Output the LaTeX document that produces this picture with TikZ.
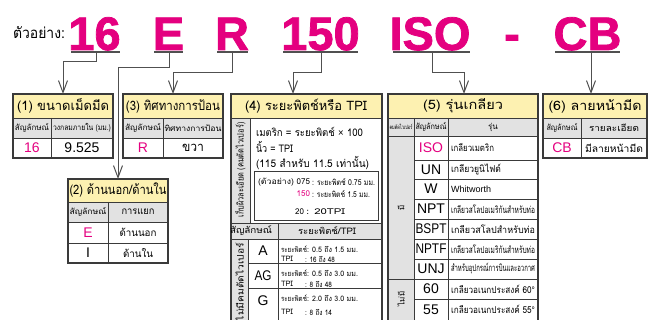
\documentclass[tikz,border=0pt]{standalone}
\usepackage{fontspec}
\usepackage{graphicx}
\setmainfont{Loma}[Script=Thai]
\newfontfamily\lat{Liberation Sans}
\newfontfamily\latbig{Liberation Sans Bold}[FakeBold=1.6]
\usetikzlibrary{arrows.meta}
\definecolor{mag}{HTML}{E4007F}
\definecolor{hdr}{HTML}{FDF1B1}
\definecolor{sub}{HTML}{E2E2E2}
\definecolor{bord}{HTML}{3A3A3A}
\definecolor{conn}{HTML}{505050}
\newcommand{\fs}[1]{\fontsize{#1}{#1}\selectfont}
\newcommand{\fx}[2]{\resizebox{#1pt}{\height}{#2}}
\begin{document}
\begin{tikzpicture}[x=1pt,y=-1pt,
  t/.style={inner sep=0pt, outer sep=0pt},
  big/.style={t, anchor=base, text=mag, font=\latbig\fs{47}},
  uline/.style={draw=conn, line width=1.2pt},
  conn/.style={draw=conn, line width=1pt, -{Straight Barb[length=12pt,width=9pt,line width=1pt]}},
  frame/.style={draw=bord, line width=1.3pt, inner sep=0pt, outer sep=0pt, anchor=north west},
  grid/.style={draw=bord, line width=0.9pt},
  hd/.style={t, font=\fs{13}},
  sh/.style={t, font=\fs{8}},
  dt/.style={t, font=\lat\fs{14}},
  sm/.style={t, font=\fs{7.5}, anchor=west},
]
\useasboundingbox (0,0) rectangle (651,320);
\clip (0,0) rectangle (651,320);

% ---------- title line ----------
\node[t, anchor=base west, font=\fs{15}] (lbl) at (13,39) {\fx{52}{ตัวอย่าง:}};
\node[big] (n16) at (94.5,50) {16};
\node[big] (nE) at (168.5,50) {E};
\node[big] (nR) at (232,50) {R};
\node[big] (n150) at (320.5,50) {150};
\node[big] (nISO) at (430,50) {ISO};
\node[big] (ndash) at (512,50) {-};
\node[big] (nCB) at (587.5,50) {CB};
\draw[uline] (71,52) -- (120,52);
\draw[uline] (154,52) -- (183,52);
\draw[uline] (217,52) -- (248,52);
\draw[uline] (283,52) -- (358,52);
\draw[uline] (393,52) -- (470,52);
\draw[uline] (555,52) -- (620,52);

% ---------- fills ----------
\fill[hdr] (13,94) rectangle (113,118);
\fill[sub] (13,118) rectangle (113,138);
\fill[hdr] (123,94) rectangle (223,118);
\fill[sub] (123,118) rectangle (223,138);
\fill[hdr] (68,179) rectangle (168,202);
\fill[sub] (68,202) rectangle (168,222);
\fill[hdr] (231,94) rectangle (382,118);
\fill[sub] (231,118) rectangle (250,223);
\fill[sub] (231,223) rectangle (382,239);
\fill[sub] (231,239) rectangle (248,325);
\fill[hdr] (388,94) rectangle (538,118);
\fill[sub] (388,118) rectangle (538,136);
\fill[sub] (388,136) rectangle (414,325);
\fill[hdr] (543,94) rectangle (647,118);
\fill[sub] (543,118) rectangle (647,138);

% ---------- grid lines ----------
% box 1
\draw[grid] (13,118) -- (113,118) (13,138) -- (113,138) (51,118) -- (51,158);
% box 3
\draw[grid] (123,118) -- (223,118) (123,138) -- (223,138) (163,118) -- (163,158);
% box 2
\draw[grid] (68,202) -- (168,202) (68,222) -- (168,222) (68,243) -- (168,243) (108,202) -- (108,263);
% box 4
\draw[grid] (231,118) -- (382,118) (250,118) -- (250,223) (231,223) -- (382,223)
  (231,239) -- (382,239) (278,223) -- (278,325) (248,239) -- (248,325)
  (248,263) -- (382,263) (248,288) -- (382,288);
\draw[grid, fill=white] (254,171) rectangle (378,220);
% box 5
\draw[grid] (388,118) -- (538,118) (388,136) -- (538,136) (414,118) -- (414,325) (448,118) -- (448,325);
\foreach \yy in {160,179,199,219,239,259,299} {\draw[grid] (414,\yy) -- (538,\yy);}
\draw[grid] (388,279) -- (538,279);
% box 6
\draw[grid] (543,118) -- (647,118) (543,138) -- (647,138) (581,118) -- (581,158);

% ---------- frames ----------
\node[frame, minimum width=100pt, minimum height=64pt] (b1) at (13,94) {};
\node[frame, minimum width=100pt, minimum height=64pt] (b3) at (123,94) {};
\node[frame, minimum width=100pt, minimum height=84pt] (b2) at (68,179) {};
\node[frame, minimum width=151pt, minimum height=231pt] (b4) at (231,94) {};
\node[frame, minimum width=150pt, minimum height=231pt] (b5) at (388,94) {};
\node[frame, minimum width=104pt, minimum height=64pt] (b6) at (543,94) {};

% ---------- box 1 ----------
\node[hd] at (63,106) {\fx{92}{(1) ขนาดเม็ดมีด}};
\node[sh] at (32,128) {\fx{34}{สัญลักษณ์}};
\node[sh] at (82,128) {\fx{58}{วงกลมภายใน (มม.)}};
\node[dt, text=mag] at (32,148) {16};
\node[dt] at (82,148) {9.525};
% ---------- box 3 ----------
\node[hd] at (173,106) {\fx{94}{(3) ทิศทางการป้อน}};
\node[sh] at (143,128) {\fx{36}{สัญลักษณ์}};
\node[sh] at (193,128) {\fx{57}{ทิศทางการป้อน}};
\node[dt, text=mag] at (143,148) {R};
\node[t, font=\fs{13}] at (193,148) {\fx{22}{ขวา}};
% ---------- box 2 ----------
\node[hd] at (118,190.5) {\fx{97}{(2) ด้านนอก/ด้านใน}};
\node[sh] at (88,212) {\fx{37}{สัญลักษณ์}};
\node[t, font=\fs{10}] at (138,212) {\fx{33}{การแยก}};
\node[dt, text=mag] at (88,232.5) {E};
\node[t, font=\fs{10}] at (138,232.5) {\fx{37}{ด้านนอก}};
\node[dt] at (88,253) {I};
\node[t, font=\fs{10}] at (138,253) {\fx{30}{ด้านใน}};
% ---------- box 4 ----------
\node[hd] at (306,106) {\fx{122}{(4) ระยะพิตช์หรือ TPI}};
\node[t, font=\fs{9}, rotate=90] at (240.5,170) {\fx{95}{เก็บผิวละเอียด (คมตัดไวเปอร์)}};
\node[t, font=\fs{10.5}, anchor=west] at (256,132) {\fx{107}{เมตริก = ระยะพิตช์ {\lat ×} 100}};
\node[t, font=\fs{10.5}, anchor=west] at (256,147) {\fx{37}{นิ้ว = TPI}};
\node[t, font=\fs{10.5}, anchor=west] at (256,163) {\fx{113}{(115 สำหรับ 11.5 เท่านั้น)}};
\node[t, font=\fs{8}, anchor=west] at (258,182) {\fx{36}{(ตัวอย่าง)}};
\node[t, font=\fs{8}, anchor=east] at (310,182) {075};
\node[t, font=\fs{8}, anchor=west] at (312,182) {\fx{63}{: ระยะพิตช์ 0.75 มม.}};
\node[t, font=\fs{8}, anchor=east, text=mag] at (310,194) {150};
\node[t, font=\fs{8}, anchor=west] at (312,194) {\fx{58}{: ระยะพิตช์ 1.5 มม.}};
\node[t, font=\fs{8}, anchor=east] at (304,212) {20};
\node[t, font=\fs{8}, anchor=west] at (306,212) {\fx{39}{: 20TPI}};
\node[t, font=\fs{9}] at (251,231) {\fx{42}{สัญลักษณ์}};
\node[t, font=\fs{9}] at (327,231) {\fx{58}{ระยะพิตช์/TPI}};
\node[t, font=\fs{9}, rotate=90] at (239.5,282) {\fx{78}{ไม่มีคมตัดไวเปอร์}};
\node[dt] at (263,251) {A};
\node[dt] at (263,275.5) {\fx{17}{AG}};
\node[dt] at (263,301) {G};
\node[sm] at (281,249) {\fx{26}{ระยะพิตช์}};
\node[sm] at (307,249) {\fx{51}{: 0.5 ถึง 1.5 มม.}};
\node[sm] at (281,259) {TPI};
\node[sm] at (305,259) {\fx{30}{: 16 ถึง 48}};
\node[sm] at (281,273) {\fx{26}{ระยะพิตช์}};
\node[sm] at (307,273) {\fx{51}{: 0.5 ถึง 3.0 มม.}};
\node[sm] at (281,284) {TPI};
\node[sm] at (305,284) {\fx{27}{: 8 ถึง 48}};
\node[sm] at (281,298) {\fx{26}{ระยะพิตช์}};
\node[sm] at (307,298) {\fx{51}{: 2.0 ถึง 3.0 มม.}};
\node[sm] at (281,312) {TPI};
\node[sm] at (305,312) {\fx{27}{: 8 ถึง 14}};
% ---------- box 5 ----------
\node[hd] at (463,106) {\fx{80}{(5) รุ่นเกลียว}};
\node[t, font=\fs{6}] at (401,127) {\fx{23}{คมตัดไวเปอร์}};
\node[sh] at (431,127) {\fx{31}{สัญลักษณ์}};
\node[sh] at (493,127) {รุ่น};
\node[t, font=\fs{8}, rotate=90] at (401,208) {มี};
\node[t, font=\fs{8}, rotate=90] at (401,299) {ไม่มี};
\node[dt, text=mag] at (431,148) {ISO};
\node[dt] at (431,169.5) {UN};
\node[dt] at (431,189) {W};
\node[dt] at (431,209) {NPT};
\node[dt] at (431,229) {\fx{31}{BSPT}};
\node[dt] at (431,249) {\fx{31}{NPTF}};
\node[dt] at (431,269) {UNJ};
\node[dt] at (431,289) {60};
\node[dt] at (431,309.5) {55};
\node[t, font=\fs{9.5}, anchor=west] at (451,148) {\fx{43}{เกลียวเมตริก}};
\node[t, font=\fs{9.5}, anchor=west] at (451,169.5) {\fx{50}{เกลียวยูนิไฟด์}};
\node[t, font=\lat\fs{9}, anchor=west] at (451,189) {Whitworth};
\node[t, font=\fs{9.5}, anchor=west] at (451,209) {\fx{84}{เกลียวสโลปอเมริกันสำหรับท่อ}};
\node[t, font=\fs{9.5}, anchor=west] at (451,229) {\fx{84}{เกลียวสโลปสำหรับท่อ}};
\node[t, font=\fs{9.5}, anchor=west] at (451,249) {\fx{84}{เกลียวสโลปอเมริกันสำหรับท่อ}};
\node[t, font=\fs{9.5}, anchor=west] at (451,269) {\fx{84}{สำหรับอุปกรณ์การบินและอวกาศ}};
\node[t, font=\fs{9.5}, anchor=west] at (451,289) {\fx{84}{เกลียวอเนกประสงค์ 60{\lat °}}};
\node[t, font=\fs{9.5}, anchor=west] at (451,309.5) {\fx{84}{เกลียวอเนกประสงค์ 55{\lat °}}};
% ---------- box 6 ----------
\node[hd] at (595,106) {\fx{93}{(6) ลายหน้ามีด}};
\node[sh] at (562,128) {\fx{31}{สัญลักษณ์}};
\node[t, font=\fs{9}] at (614,128) {\fx{50}{รายละเอียด}};
\node[dt, text=mag] at (562,148) {CB};
\node[t, font=\fs{10}] at (614,148) {\fx{58}{มีลายหน้ามีด}};

% ---------- connectors ----------
\coordinate (u16) at (96,52);
\coordinate (uE) at (169,52);
\coordinate (uR) at (232,52);
\coordinate (u150) at (321,52);
\coordinate (uISO) at (432,52);
\coordinate (uCB) at (591,52);
\coordinate (a4) at (293,94);
\coordinate (a5) at (464,94);
\draw[conn] (u16) -- ++(0,10) -| (b1.north);
\draw[conn] (uE) -- ++(0,16) -| (b2.north);
\draw[conn] (uR) -- ++(0,21) -| (b3.north);
\draw[conn] (u150) -- ++(0,21) -| (a4);
\draw[conn] (uISO) -- ++(0,21) -| (a5);
\draw[conn] (uCB) -- (uCB |- b6.north);
\end{tikzpicture}
\end{document}
